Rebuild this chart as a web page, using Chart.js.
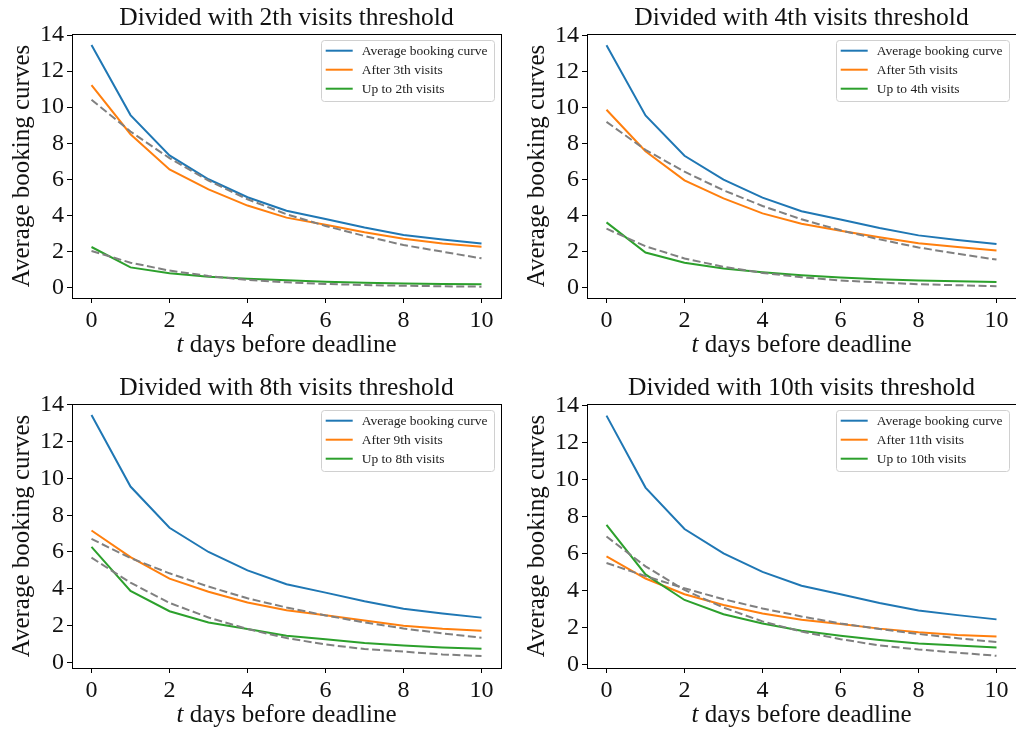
<!DOCTYPE html>
<html>
<head>
<meta charset="utf-8">
<script src="https://cdn.jsdelivr.net/npm/chart.js@4.4.0/dist/chart.umd.min.js"></script>
<style>
  html, body { margin: 0; padding: 0; background: #fff; overflow: hidden; }
  body { width: 1016px; height: 731px; position: relative; }
  .panel { position: absolute; width: 510px; height: 365px; }
</style>
</head>
<body>
<div class="panel" style="left:0;top:0"><canvas id="c0" width="510" height="365"></canvas></div>
<div class="panel" style="left:515px;top:0"><canvas id="c1" width="510" height="365"></canvas></div>
<div class="panel" style="left:0;top:370px"><canvas id="c2" width="510" height="365"></canvas></div>
<div class="panel" style="left:515px;top:370px"><canvas id="c3" width="510" height="365"></canvas></div>
<script>
const days = [0, 1, 2, 3, 4, 5, 6, 7, 8, 9, 10];
const xTicks = [0, 2, 4, 6, 8, 10];
const yTicks = [0, 2, 4, 6, 8, 10, 12, 14];

const titles = [
  'Divided with 2th visits threshold',
  'Divided with 4th visits threshold',
  'Divided with 8th visits threshold',
  'Divided with 10th visits threshold',
];
const averageLabel = 'Average booking curve';
const afterLabels = ['After 3th visits', 'After 5th visits', 'After 9th visits', 'After 11th visits'];
const upToLabels = ['Up to 2th visits', 'Up to 4th visits', 'Up to 8th visits', 'Up to 10th visits'];

// same average curve in every panel
const averageCurve = [13.45, 9.56, 7.32, 6.0, 5.0, 4.25, 3.79, 3.32, 2.91, 2.66, 2.43];

const after3 = [11.22, 8.5, 6.54, 5.44, 4.54, 3.87, 3.48, 3.06, 2.7, 2.44, 2.26];
const upTo2 = [2.24, 1.11, 0.78, 0.59, 0.48, 0.39, 0.31, 0.26, 0.21, 0.19, 0.17];
const fitAfter3 = [10.41, 8.65, 7.17, 5.93, 4.89, 4.06, 3.41, 2.85, 2.35, 1.98, 1.61];
const fitUpTo2 = [2.02, 1.37, 0.93, 0.63, 0.41, 0.28, 0.19, 0.13, 0.09, 0.06, 0.04];

const after5 = [9.87, 7.57, 5.96, 4.96, 4.13, 3.56, 3.17, 2.81, 2.48, 2.26, 2.07];
const upTo4 = [3.63, 1.96, 1.39, 1.07, 0.87, 0.7, 0.57, 0.48, 0.41, 0.37, 0.33];
const fitAfter5 = [9.2, 7.65, 6.44, 5.41, 4.54, 3.8, 3.19, 2.69, 2.24, 1.89, 1.57];
const fitUpTo4 = [3.28, 2.31, 1.63, 1.17, 0.83, 0.59, 0.41, 0.3, 0.2, 0.15, 0.09];

const after9 = [7.17, 5.72, 4.55, 3.84, 3.25, 2.83, 2.56, 2.27, 1.99, 1.82, 1.71];
const upTo8 = [6.28, 3.88, 2.78, 2.17, 1.81, 1.44, 1.25, 1.05, 0.92, 0.81, 0.74];
const fitAfter9 = [6.71, 5.67, 4.84, 4.12, 3.48, 2.98, 2.55, 2.17, 1.84, 1.57, 1.34];
const fitUpTo8 = [5.69, 4.33, 3.23, 2.44, 1.81, 1.32, 0.97, 0.72, 0.58, 0.43, 0.34];

const after11 = [5.84, 4.64, 3.79, 3.21, 2.75, 2.41, 2.18, 1.93, 1.73, 1.59, 1.5];
const upTo10 = [7.54, 4.86, 3.48, 2.71, 2.21, 1.82, 1.55, 1.32, 1.13, 1.02, 0.91];
const fitAfter11 = [5.48, 4.77, 4.11, 3.52, 3.02, 2.59, 2.21, 1.91, 1.64, 1.41, 1.2];
const fitUpTo10 = [6.91, 5.3, 4.02, 3.07, 2.32, 1.77, 1.36, 1.02, 0.8, 0.63, 0.46];

const yMin = [-0.59, -0.56, -0.31, -0.2];
const yMax = [14.06, 14.07, 14.05, 14.08];

const afterSeries = [after3, after5, after9, after11];
const upToSeries = [upTo2, upTo4, upTo8, upTo10];
const afterFits = [fitAfter3, fitAfter5, fitAfter9, fitAfter11];
const upToFits = [fitUpTo2, fitUpTo4, fitUpTo8, fitUpTo10];

const BLUE = '#1f77b4';
const ORANGE = '#ff7f0e';
const GREEN = '#2ca02c';
const GRAY = '#808080';
const SERIF = "'Liberation Serif', serif";
const TEXT = '#111';

Chart.defaults.font.family = SERIF;
Chart.defaults.color = TEXT;

const toPoints = (vals) => days.map((d, i) => ({ x: d, y: vals[i] }));

const solid = (label, vals, color, order) => ({
  label: label,
  data: toPoints(vals),
  borderColor: color,
  backgroundColor: color,
  borderWidth: 2,
  pointRadius: 0,
  tension: 0,
  order: order,
});

const dashed = (vals) => ({
  label: '',
  data: toPoints(vals),
  borderColor: GRAY,
  borderWidth: 2,
  borderDash: [8, 3.5],
  pointRadius: 0,
  tension: 0,
  order: 0,
});

// black box around the axes
const framePlugin = {
  id: 'frame',
  afterDatasetsDraw(chart) {
    const { ctx, chartArea: a } = chart;
    ctx.save();
    ctx.strokeStyle = '#000';
    ctx.lineWidth = 1;
    ctx.strokeRect(a.left + 0.5, a.top + 0.5, a.right - a.left, a.bottom - a.top);
    ctx.restore();
  },
};

// matplotlib-like legend box in the upper right corner
const legendPlugin = {
  id: 'boxLegend',
  afterDraw(chart, args, opts) {
    const { ctx, chartArea: a } = chart;
    const boxW = 173;
    const boxH = 61;
    const bx = a.right - 7 - boxW;
    const by = a.top + 6;
    ctx.save();
    ctx.beginPath();
    ctx.roundRect(bx + 0.5, by + 0.5, boxW, boxH, 3);
    ctx.fillStyle = 'rgba(255,255,255,0.85)';
    ctx.fill();
    ctx.strokeStyle = '#d0d0d0';
    ctx.lineWidth = 1;
    ctx.stroke();
    ctx.font = '13.5px ' + SERIF;
    ctx.textBaseline = 'middle';
    ctx.textAlign = 'left';
    opts.items.forEach((item, i) => {
      const y = by + 10.7 + 19 * i;
      ctx.strokeStyle = item.color;
      ctx.lineWidth = 2;
      ctx.beginPath();
      ctx.moveTo(bx + 4.7, y);
      ctx.lineTo(bx + 31.7, y);
      ctx.stroke();
      ctx.fillStyle = '#222';
      ctx.fillText(item.text, bx + 40.7, y + 1);
    });
    ctx.restore();
  },
};

// x label with italic t
const xLabelPlugin = {
  id: 'xLabel',
  afterDraw(chart) {
    const { ctx, chartArea: a } = chart;
    const italic = 'italic 25px ' + SERIF;
    const normal = '25px ' + SERIF;
    ctx.save();
    ctx.font = italic;
    const w1 = ctx.measureText('t').width;
    ctx.font = normal;
    const rest = ' days before deadline';
    const w2 = ctx.measureText(rest).width;
    const x0 = (a.left + a.right) / 2 - (w1 + w2) / 2;
    const y = 345;
    ctx.fillStyle = TEXT;
    ctx.textBaseline = 'middle';
    ctx.textAlign = 'left';
    ctx.font = italic;
    ctx.fillText('t', x0, y);
    ctx.font = normal;
    ctx.fillText(rest, x0 + w1, y);
    ctx.restore();
  },
};

const makeChart = (idx) => {
  const ctx = document.getElementById('c' + idx).getContext('2d');
  return new Chart(ctx, {
    type: 'line',
    data: {
      datasets: [
        solid(averageLabel, averageCurve, BLUE, 3),
        solid(afterLabels[idx], afterSeries[idx], ORANGE, 2),
        solid(upToLabels[idx], upToSeries[idx], GREEN, 1),
        dashed(afterFits[idx]),
        dashed(upToFits[idx]),
      ],
    },
    options: {
      responsive: false,
      devicePixelRatio: 1,
      animation: false,
      layout: { padding: { left: 0, right: 9, top: 0, bottom: 0 } },
      plugins: {
        legend: { display: false },
        tooltip: { enabled: false },
        title: {
          display: true,
          text: titles[idx],
          fullSize: false,
          color: TEXT,
          font: { size: 25.5, weight: 'normal', lineHeight: 1.1 },
          padding: { top: 4, bottom: 1.95 },
        },
        boxLegend: {
          items: [
            { text: averageLabel, color: BLUE },
            { text: afterLabels[idx], color: ORANGE },
            { text: upToLabels[idx], color: GREEN },
          ],
        },
      },
      scales: {
        x: {
          type: 'linear',
          min: -0.5,
          max: 10.5,
          afterBuildTicks: (s) => { s.ticks = xTicks.map((v) => ({ value: v })); },
          afterFit: (s) => { s.height = 67; },
          grid: { display: true, drawOnChartArea: false, drawTicks: true, tickLength: 5, color: '#000' },
          border: { display: false },
          ticks: { font: { size: 24 }, color: TEXT, padding: 3, maxRotation: 0 },
        },
        y: {
          type: 'linear',
          min: yMin[idx],
          max: yMax[idx],
          afterBuildTicks: (s) => { s.ticks = yTicks.map((v) => ({ value: v })); },
          afterFit: (s) => { s.width = 72; },
          grid: { display: true, drawOnChartArea: false, drawTicks: true, tickLength: 5, color: '#000' },
          border: { display: false },
          ticks: { font: { size: 24 }, color: TEXT, padding: 3 },
          title: {
            display: true,
            text: 'Average booking curves',
            color: TEXT,
            font: { size: 25, lineHeight: 1.2 },
            padding: { top: 7, bottom: 0 },
          },
        },
      },
    },
    plugins: [framePlugin, legendPlugin, xLabelPlugin],
  });
};

[0, 1, 2, 3].forEach(makeChart);
</script>
</body>
</html>
